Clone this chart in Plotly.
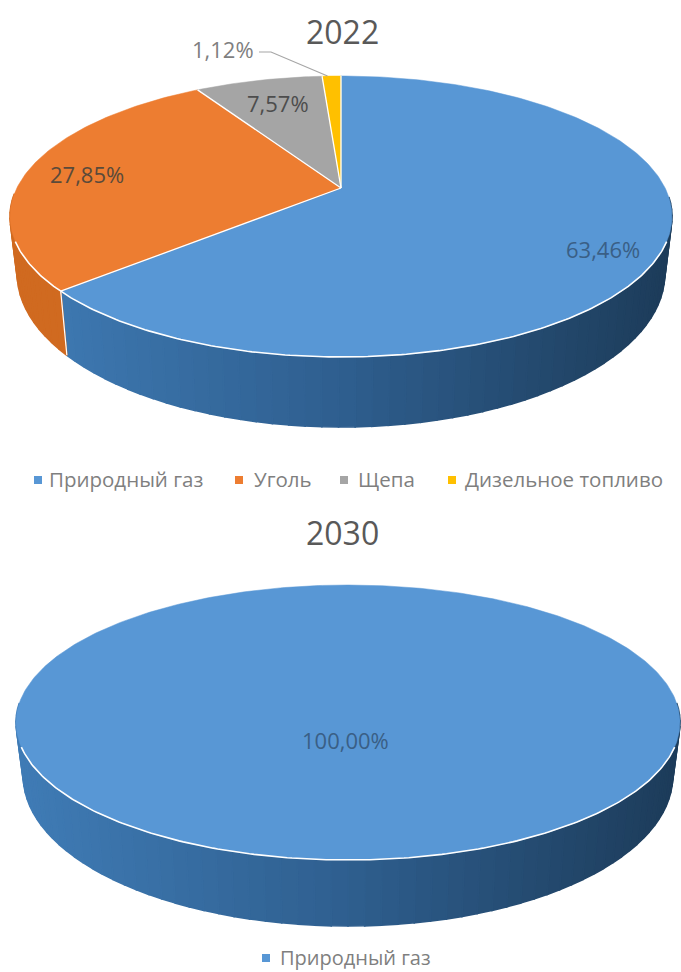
import math
import numpy as np
import plotly.graph_objects as go

# ---- data ----
categories = ["Природный газ", "Уголь", "Щепа", "Дизельное топливо"]
shares_2022 = [63.46, 27.85, 7.57, 1.12]
shares_2030 = [100.0]
years = ["2022", "2030"]

# ---- style ----
FONT = "Open Sans"
FACE = ["#5897d5", "#ed7d31", "#a5a5a5", "#ffc000"]
SIDE_STOPS = [
    [(0.0, (64, 124, 182)), (0.5, (47, 95, 143)), (1.0, (29, 60, 90))],
    [(0.0, (208, 106, 32)), (1.0, (222, 114, 38))],
    [(0.0, (140, 140, 140)), (1.0, (120, 120, 120))],
    [(0.0, (210, 160, 0)), (1.0, (190, 145, 0))],
]
W, H = 681, 972


class Pie3D:
    """Perspective projection of a tilted cylinder onto the page."""

    def __init__(self, cx, top, front, rx, drop, ratio=0.6627):
        self.cx, self.front, self.rx, self.drop = cx, front, rx, drop
        self.k = (1 - ratio) / (1 + ratio)
        up = (front - top) * ratio / (1 + ratio)
        self.apex = top + up
        self.A = up * (1 + self.k)
        self.B = rx * math.sqrt(1 - self.k ** 2)

    def top_pt(self, pct):
        t = np.asarray(pct) * 2 * np.pi / 100
        u, v = np.sin(t), np.cos(t)
        w = 1 + self.k * v
        return self.cx + self.B * u / w, self.apex - self.A * v / w

    def low_pt(self, pct):
        x, y = self.top_pt(pct)
        return self.cx + 0.978 * (x - self.cx), self.front + self.drop + 1.09 * (y - self.front)


def shade(stops, t):
    t = min(max(t, 0), 1)
    for (a, ca), (b, cb) in zip(stops, stops[1:]):
        if t <= b:
            f = (t - a) / (b - a)
            return "rgb(%d,%d,%d)" % tuple(ca[i] + f * (cb[i] - ca[i]) for i in range(3))
    return "rgb(%d,%d,%d)" % stops[-1][1]


def poly(fig, x, y, fill, line=None, width=1.6):
    fig.add_trace(go.Scatter(x=list(x), y=list(y), mode="lines", fill="toself", fillcolor=fill,
                             line=dict(color=line or fill, width=width), hoverinfo="skip", showlegend=False))


def stroke(fig, x, y, color="#ffffff", width=1.5):
    fig.add_trace(go.Scatter(x=list(x), y=list(y), mode="lines", line=dict(color=color, width=width),
                             hoverinfo="skip", showlegend=False))


def draw_pie(fig, pie, shares):
    edges = np.concatenate([[0], np.cumsum(shares)])
    # side wall
    for i in range(len(shares)):
        n = max(2, int((edges[i + 1] - edges[i]) * 1.5))
        grid = np.linspace(edges[i], edges[i + 1], n + 1)
        for a, b in zip(grid[:-1], grid[1:]):
            mid = (a + b) / 2
            if np.cos(mid * 2 * np.pi / 100) > -0.05:
                continue
            tx, ty = pie.top_pt([a, b])
            lx, ly = pie.low_pt([b, a])
            xm = pie.top_pt(mid)[0]
            col = shade(SIDE_STOPS[i], (xm - (pie.cx - pie.rx)) / (2 * pie.rx))
            poly(fig, [*tx, *lx, tx[0]], [*ty, *ly, ty[0]], col)
    # wall separators that face the viewer
    if len(shares) > 1:
        for e in edges[1:-1]:
            if np.cos(e * 2 * np.pi / 100) < 0:
                tx, ty = pie.top_pt(e)
                lx, ly = pie.low_pt(e)
                stroke(fig, [tx, lx], [ty, ly], width=1.2)
    # top face
    for i in range(len(shares)):
        grid = np.linspace(edges[i], edges[i + 1], max(3, int((edges[i + 1] - edges[i]) * 4)))
        ax, ay = pie.top_pt(grid)
        if len(shares) == 1:
            poly(fig, ax, ay, FACE[i], width=0.5)
        else:
            poly(fig, [pie.cx, *ax, pie.cx], [pie.apex, *ay, pie.apex], FACE[i], width=0.5)
    for e in edges[:-1] if len(shares) > 1 else []:
        ex, ey = pie.top_pt(e)
        stroke(fig, [pie.cx, ex], [pie.apex, ey], width=1.3)
    # light rim on the front of the top face
    grid = np.linspace(31, 69, 200)
    rx, ry = pie.top_pt(grid)
    stroke(fig, rx, ry, width=1.6)


fig = go.Figure()
pie_a = Pie3D(cx=341, top=76, front=357, rx=331, drop=70)
pie_b = Pie3D(cx=348, top=585, front=860, rx=332, drop=66)
draw_pie(fig, pie_a, shares_2022)
draw_pie(fig, pie_b, shares_2030)


def pct(v):
    return f"{v:.2f}".replace(".", ",") + "%"


# leader line for the smallest slice
lead_x, lead_y = pie_a.top_pt(100 - shares_2022[3] / 2)
stroke(fig, [259, 271, lead_x - 4], [52, 52, lead_y], color="#a6a6a6", width=1.2)

annotations = []


def text(x, y, s, size, color, anchor="center"):
    annotations.append(dict(x=x, y=y, xref="x", yref="y", text=s, showarrow=False, xanchor=anchor,
                            yanchor="middle", font=dict(family=FONT, size=size, color=color)))


text(342, 31, years[0], 32, "#595959")
text(342, 532, years[1], 32, "#595959")
label_xy = [(603, 249), (87, 174), (278, 103), (223, 49)]
label_col = ["#3a5f86", "#5a4a3a", "#4d4d4d", "#7f7f7f"]
for v, (x, y), c in zip(shares_2022, label_xy, label_col):
    text(x, y, pct(v), 22, c)
text(345, 740, pct(shares_2030[0]), 22, "#3a5f86")

# legend rows
row_a = [(38, 47), (239, 252), (344, 356), (452, 463)]
for name, col, (mx, tx) in zip(categories, FACE, row_a):
    fig.add_trace(go.Scatter(x=[mx], y=[480], mode="markers", hoverinfo="skip", showlegend=False,
                             marker=dict(symbol="square", size=8, color=col)))
    text(tx, 479, name, 20.5, "#7f7f7f", "left")
fig.add_trace(go.Scatter(x=[266], y=[958], mode="markers", hoverinfo="skip", showlegend=False,
                         marker=dict(symbol="square", size=8, color=FACE[0])))
text(278, 957, categories[0], 20, "#7f7f7f", "left")

axis = dict(visible=False, fixedrange=True)
fig.update_layout(
    width=W, height=H, autosize=False, margin=dict(l=0, r=0, t=0, b=0),
    paper_bgcolor="#ffffff", plot_bgcolor="#ffffff", showlegend=False,
    xaxis=dict(range=[0, W], **axis), yaxis=dict(range=[H, 0], **axis),
    annotations=annotations, font=dict(family=FONT),
)
fig.write_html("out.html", config={"displayModeBar": False},
               post_script="document.body.style.margin='0';document.body.style.overflow='hidden';")
